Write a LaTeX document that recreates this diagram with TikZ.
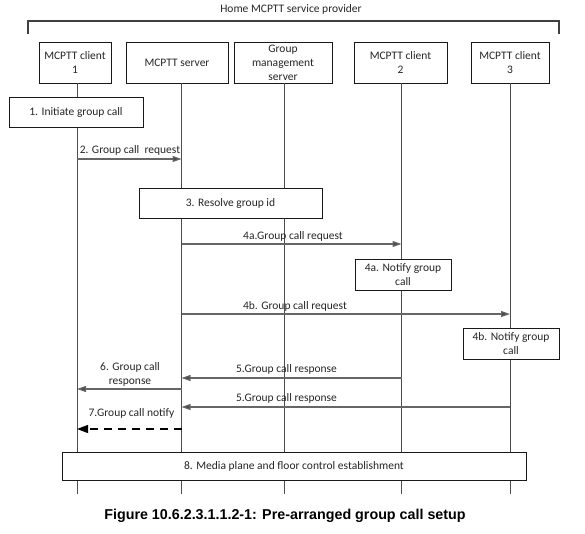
\documentclass[tikz,border=0pt]{standalone}
\usepackage{fontspec}
\setmainfont{Carlito}
\newfontfamily\capfont{Liberation Sans}
\usetikzlibrary{arrows.meta}
\begin{document}
\begin{tikzpicture}[x=1pt,y=-1pt,
  txt/.style={font=\fontsize{11.5}{14}\selectfont, text=black!85},
  box/.style={txt, draw=black!90, fill=white, line width=0.9pt, inner sep=0pt, align=center},
  life/.style={draw=black!70, line width=1pt},
  msg/.style={draw=black!60, line width=1.1pt, -{Triangle[length=9pt,width=6pt,fill=black!70]}},
  lbl/.style={txt, inner sep=0pt, align=center},
  bracketline/.style={draw=black!75, line width=1.2pt}]
\useasboundingbox (0,0) rectangle (585,533);

% title and bracket
\node[lbl] (title) at (291,9) {Home MCPTT service provider};
\draw[bracketline] (28,34) -- (28,21) -- (559,21) -- (559,34);

% header boxes
\node[box, minimum width=72pt, minimum height=41pt] (c1) at (75,62.5) {MCPTT client\\1};
\node[box, minimum width=102pt, minimum height=41pt] (srv) at (177,62.5) {MCPTT server};
\node[box, minimum width=98pt, minimum height=41pt] (gms) at (283,62.5) {Group\\management\\server};
\node[box, minimum width=93pt, minimum height=41pt] (c2) at (400.5,62.5) {MCPTT client\\2};
\node[box, minimum width=78pt, minimum height=41pt] (c3) at (510,62.5) {MCPTT client\\3};

% lifelines
\coordinate (l1t) at (77,83);    \coordinate (l1b) at (77,494);
\coordinate (l2t) at (181.5,83); \coordinate (l2b) at (181.5,494);
\coordinate (l3t) at (284,83);   \coordinate (l3b) at (284,494);
\coordinate (l4t) at (401.5,83); \coordinate (l4b) at (401.5,494);
\coordinate (l5t) at (510,83);   \coordinate (l5b) at (510,494);
\draw[life] (l1t) -- (l1b);
\draw[life] (l2t) -- (l2b);
\draw[life] (l3t) -- (l3b);
\draw[life] (l4t) -- (l4b);
\draw[life] (l5t) -- (l5b);

% step boxes
\node[box, minimum width=134pt, minimum height=30pt] (s1) at (76,112) {1. Initiate group call};
\node[box, minimum width=183pt, minimum height=30pt] (s3) at (230.5,203) {3. Resolve group id};
\node[box, minimum width=96pt, minimum height=31pt] (s4a) at (403,274.5) {4a. Notify group\\call};
\node[box, minimum width=96pt, minimum height=31pt] (s4b) at (511,343.5) {4b. Notify group\\call};
\node[box, minimum width=464pt, minimum height=28pt] (s8) at (294,466) {8. Media plane and floor control establishment};

% message end points
\coordinate (m2a) at (77,159);    \coordinate (m2b) at (181.5,159);
\coordinate (m4aa) at (181.5,244); \coordinate (m4ab) at (401.5,244);
\coordinate (m4ba) at (181.5,314); \coordinate (m4bb) at (510,314);
\coordinate (m5aa) at (401.5,378); \coordinate (m5ab) at (181.5,378);
\coordinate (m6a) at (181.5,389);  \coordinate (m6b) at (77,389);
\coordinate (m5ba) at (510,407);   \coordinate (m5bb) at (181.5,407);
\coordinate (m7a) at (181.5,429);  \coordinate (m7b) at (77,429);

\draw[msg] (m2a) -- (m2b);
\draw[msg] (m4aa) -- (m4ab);
\draw[msg] (m4ba) -- (m4bb);
\draw[msg] (m5aa) -- (m5ab);
\draw[msg] (m6a) -- (m6b);
\draw[msg] (m5ba) -- (m5bb);
\draw[draw=black, line width=1.2pt, dash pattern=on 8pt off 6pt, -{Triangle[length=11pt,width=8pt]}] (m7a) -- (m7b);

% message labels
\node[lbl] (t2) at (130,150) {2. Group call\ \ request};
\node[lbl] (t4a) at (293,236.5) {4a.Group call request};
\node[lbl] (t4b) at (295,306) {4b. Group call request};
\node[lbl] (t5a) at (286.5,369) {5.Group call response};
\node[lbl] (t6) at (130,374) {6. Group call\\response};
\node[lbl] (t5b) at (286.5,398.5) {5.Group call response};
\node[lbl] (t7) at (131.5,413) {7.Group call notify};

% caption
\node[font=\capfont\bfseries\fontsize{14.3}{17}\selectfont, inner sep=0pt] (cap) at (285,516) {Figure 10.6.2.3.1.1.2-1: Pre-arranged group call setup};
\end{tikzpicture}
\end{document}
